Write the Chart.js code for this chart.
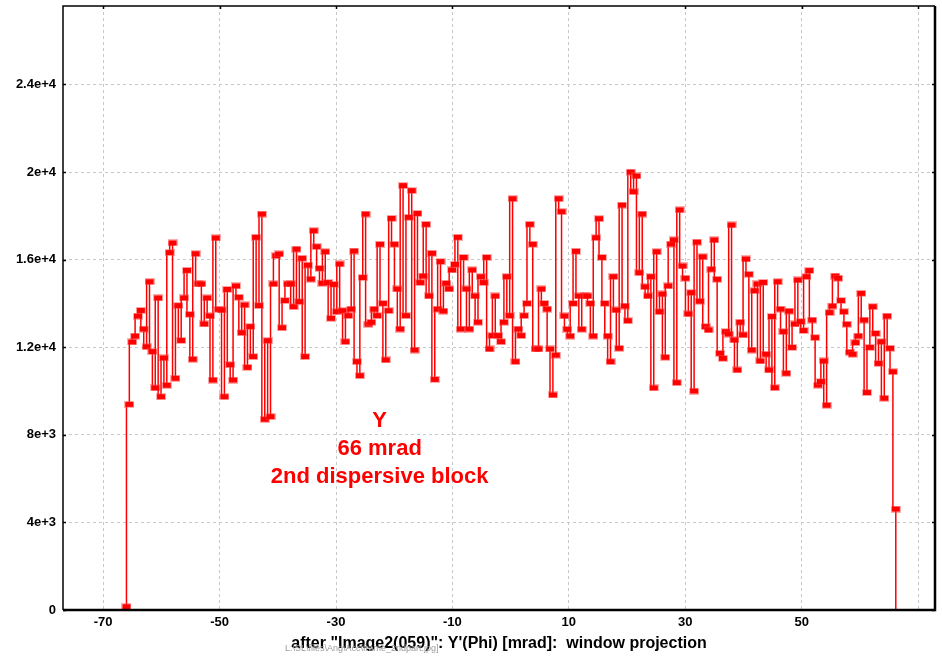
<!DOCTYPE html>
<html>
<head>
<meta charset="utf-8">
<title>Y window projection</title>
<script src="https://cdn.jsdelivr.net/npm/chart.js@4.4.0/dist/chart.umd.min.js"></script>
<style>
  html, body { margin: 0; padding: 0; background: #fff; }
  #wrap { width: 942px; height: 656px; }
</style>
</head>
<body>
<div id="wrap"><canvas id="projChart" width="942" height="656"></canvas></div>
<script>
// Projection histogram: bin centres start at BIN_START, one count per bin
const BIN_START = -66;
const BIN_WIDTH = 0.495;
const COUNTS = [
    150,
    9390, 12240, 12510, 13420, 13680, 12830, 12020, 14990, 11800, 10140,
    14250, 9740, 11510, 10260, 16320, 16760, 10580, 13900, 12310, 14250,
    15510, 13500, 11450, 16270, 14890, 14890, 13060, 14250, 13430, 10500, 16990,
    13730, 13700, 9740, 14640, 11200, 10500, 14800, 14280, 12660, 13930,
    11080, 12940, 11570, 17020, 13900, 18080, 8710, 12300, 8830, 14890,
    16180, 16260, 12890, 14130, 14890, 14890, 13850, 16480, 14080, 16060,
    11570, 15750, 15110, 17320, 16590, 15600, 14920, 16360, 14950,
    13320, 14870, 13620, 15800, 13670, 12250, 13440, 13740, 16390, 11340,
    10700, 15180, 18080, 13050, 13140, 13740, 13440, 16700, 14000, 11420,
    13670, 17880, 16700, 14660, 12830, 19380, 13440, 17930, 19150, 11870,
    18110, 14950, 15250, 17610, 14340, 16290, 10530, 13740, 15910,
    13650, 14920, 14660, 15530, 15780, 17020, 12830, 16100, 14660, 12830,
    15530, 14340, 13140, 15220, 14950, 16100, 11920, 12530, 14340, 12530,
    12250, 13140, 15220, 13440, 18780, 11340, 12830, 12530, 13440, 14000,
    17610, 16700, 11920, 11920, 14660, 14000, 13740, 11920,
    9820, 11640, 18780, 18190, 13430, 12820, 12510, 14000, 16380, 14340,
    12820, 14340, 14340, 14000, 12510, 17000, 17870, 16100, 14000, 12510,
    11340, 15220, 13700, 11950, 18490, 13880, 13210, 20000, 19100, 19820,
    15400, 18080, 14760, 14340, 15220, 10140, 16360, 13620,
    14430, 11540, 14800, 16710, 16900, 10380, 18270, 15710, 15150, 13520,
    14490, 10000, 16800, 14100, 16130, 12940, 12790, 15560, 16900, 15100,
    11720, 11490, 12710, 12600, 17580, 12330, 10960, 13140, 12560, 16030,
    15330, 11870, 14580, 14890, 11370, 14960, 11680, 10960, 13400,
    10150, 14990, 13740, 12710, 10810, 13650, 11990, 13060, 15070, 13170,
    12760, 15220, 15500, 13240, 12440, 10270, 10430, 11370, 9350, 13580,
    13880, 15250, 15150, 14130, 13620, 13050, 11770, 11680, 12210, 12510,
    14460, 13240, 9930, 11990, 13850, 12630, 11260, 12250,
    9670, 13420, 11950, 10880, 4610, 0
];

const X_MIN = -76.9;
const X_MAX = 72.9;
const Y_MIN = 0;
const Y_MAX = 27580;
const X_TICKS = [-70, -50, -30, -10, 10, 30, 50, 70];
const X_TICK_LABELS = ["-70", "-50", "-30", "-10", "10", "30", "50", ""];
const Y_TICKS = [0, 4000, 8000, 12000, 16000, 20000, 24000];
const Y_TICK_LABELS = ["0", "4e+3", "8e+3", "1.2e+4", "1.6e+4", "2e+4", "2.4e+4"];

const X_TITLE = 'after "Image2(059)": Y\'(Phi) [mrad]:  window projection';
const FILE_PATH = "L:\\SL\\files\\Ang\\Acc\\frame_2ndpart.jpg]";
const NOTE_LINES = ["Y", "66 mrad", "2nd dispersive block"];
const NOTE_AT = { x: -22.5, y: 8630 };

const RED = "#ff0000";
const FONT = "'Liberation Sans', Arial, sans-serif";

// small filled rectangle used as the point marker
function makeMarker() {
    const c = document.createElement("canvas");
    c.width = 10;
    c.height = 7;
    const g = c.getContext("2d");
    g.fillStyle = "rgba(255, 70, 70, 0.45)";
    g.fillRect(0, 0, 10, 7);
    g.fillStyle = RED;
    g.fillRect(1, 1, 8, 5);
    return c;
}

// white page, plot frame with inner ticks, note text and file path
const framePlugin = {
    id: "frame",
    beforeDraw(chart) {
        const ctx = chart.ctx;
        ctx.save();
        ctx.fillStyle = "#fff";
        ctx.fillRect(0, 0, chart.width, chart.height);
        ctx.restore();
    },
    afterDatasetsDraw(chart) {
        const { ctx, scales } = chart;
        ctx.save();
        ctx.fillStyle = RED;
        ctx.font = "bold 22px " + FONT;
        ctx.textAlign = "center";
        ctx.textBaseline = "middle";
        const nx = scales.x.getPixelForValue(NOTE_AT.x);
        const ny = scales.y.getPixelForValue(NOTE_AT.y);
        NOTE_LINES.forEach((t, i) => ctx.fillText(t, nx, ny + i * 28));
        ctx.restore();
    },
    afterDraw(chart) {
        const { ctx, chartArea: a, scales } = chart;
        ctx.save();
        ctx.strokeStyle = "#000";
        ctx.lineWidth = 1.5;
        ctx.beginPath();
        ctx.moveTo(a.left, a.bottom);
        ctx.lineTo(a.left, a.top);
        ctx.lineTo(a.right, a.top);
        ctx.stroke();
        ctx.lineWidth = 2.5;
        ctx.beginPath();
        ctx.moveTo(a.left, a.bottom);
        ctx.lineTo(a.right, a.bottom);
        ctx.lineTo(a.right, a.top);
        ctx.stroke();

        ctx.lineWidth = 1.5;
        ctx.beginPath();
        X_TICKS.forEach(v => {
            const px = Math.round(scales.x.getPixelForValue(v)) + 0.5;
            ctx.moveTo(px, a.top);
            ctx.lineTo(px, a.top + 3);
        });
        Y_TICKS.forEach(v => {
            const py = Math.round(scales.y.getPixelForValue(v)) + 0.5;
            ctx.moveTo(a.left, py);
            ctx.lineTo(a.left + 3, py);
            ctx.moveTo(a.right, py);
            ctx.lineTo(a.right - 3, py);
        });
        ctx.stroke();

        ctx.fillStyle = "#9a9a9a";
        ctx.font = "9px " + FONT;
        ctx.textAlign = "left";
        ctx.textBaseline = "middle";
        ctx.fillText(FILE_PATH, 285, 649);
        ctx.restore();
    }
};

const points = COUNTS.map((v, i) => ({ x: BIN_START + i * BIN_WIDTH, y: v }));
const marker = makeMarker();

new Chart(document.getElementById("projChart").getContext("2d"), {
    type: "line",
    data: {
        datasets: [{
            data: points,
            borderColor: RED,
            borderWidth: 1.5,
            stepped: "after",
            fill: false,
            pointStyle: marker,
            pointRadius: c => (c.dataIndex === COUNTS.length - 1 ? 0 : 4),
            pointBackgroundColor: RED,
            pointBorderColor: RED
        }]
    },
    options: {
        responsive: false,
        animation: false,
        devicePixelRatio: 1,
        events: [],
        layout: { padding: { top: 6, right: 7, left: 0, bottom: 0 } },
        plugins: {
            legend: { display: false },
            tooltip: { enabled: false }
        },
        scales: {
            x: {
                type: "linear",
                min: X_MIN,
                max: X_MAX,
                afterBuildTicks: s => { s.ticks = X_TICKS.map(v => ({ value: v })); },
                afterFit: s => {
                    s.height = 46;
                    s.paddingLeft = 0;
                    s.paddingRight = 0;
                },
                grid: { color: "#c8c8c8", lineWidth: 1, drawTicks: false },
                border: { display: false, dash: [3, 3] },
                ticks: {
                    autoSkip: false,
                    maxRotation: 0,
                    padding: 5,
                    color: "#000",
                    font: { family: FONT, size: 13, weight: "bold" },
                    callback: (v, i) => X_TICK_LABELS[i]
                },
                title: {
                    display: true,
                    text: X_TITLE,
                    color: "#000",
                    font: { family: FONT, size: 16, weight: "bold" },
                    padding: { top: 0, bottom: 3 }
                }
            },
            y: {
                type: "linear",
                min: Y_MIN,
                max: Y_MAX,
                afterBuildTicks: s => { s.ticks = Y_TICKS.map(v => ({ value: v })); },
                afterFit: s => {
                    s.width = 63;
                    s.paddingTop = 0;
                    s.paddingBottom = 0;
                },
                grid: { color: "#c8c8c8", lineWidth: 1, drawTicks: false },
                border: { display: false, dash: [3, 3] },
                ticks: {
                    padding: 7,
                    color: "#000",
                    font: { family: FONT, size: 13, weight: "bold" },
                    callback: (v, i) => Y_TICK_LABELS[i]
                }
            }
        }
    },
    plugins: [framePlugin]
});
</script>
</body>
</html>
